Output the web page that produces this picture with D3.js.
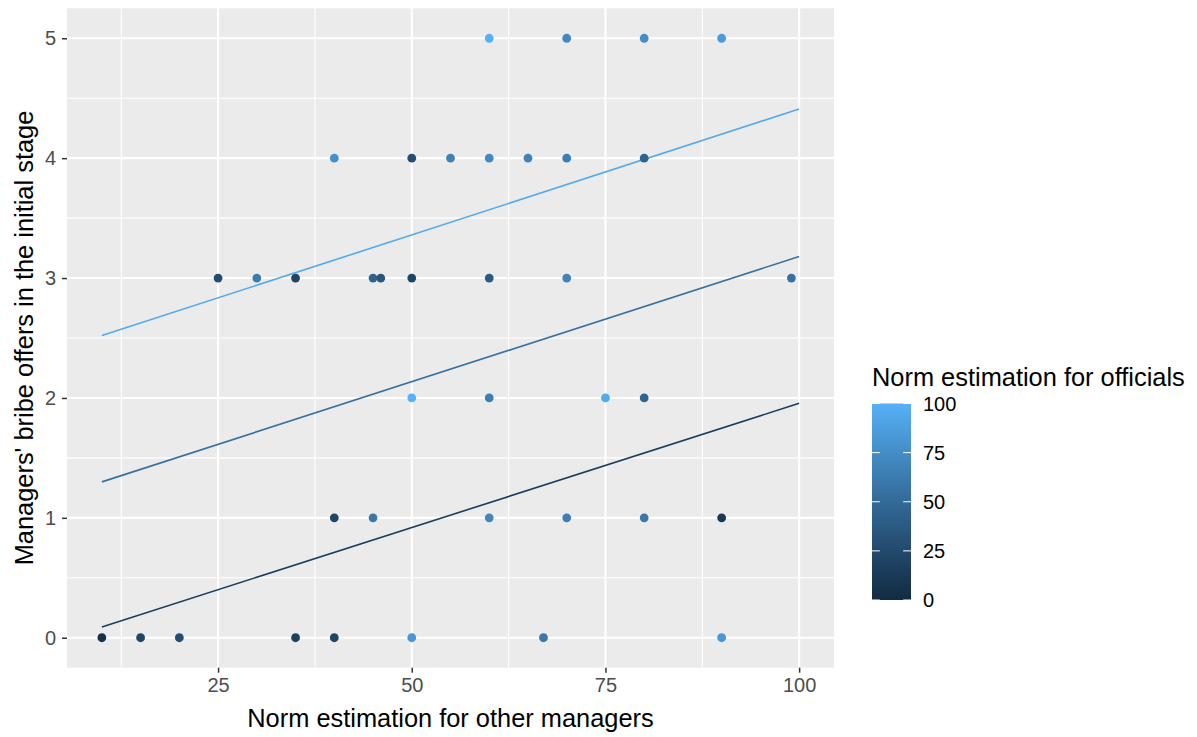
<!DOCTYPE html>
<html>
<head>
<meta charset="utf-8">
<script src="https://cdn.jsdelivr.net/npm/d3@7"></script>
<style>
  html, body { margin: 0; padding: 0; background: #ffffff; }
  svg { display: block; font-family: "Liberation Sans", Arial, sans-serif; }
</style>
</head>
<body>
<svg id="chart" width="1197" height="737"></svg>
<script>
// ---- data ----
const pointX = [60, 70, 80, 90,
                40, 50, 55, 60, 65, 70, 80,
                25, 30, 35, 45, 46, 50, 60, 70, 99,
                50, 60, 75, 80,
                40, 45, 60, 70, 80, 90,
                10, 15, 20, 35, 40, 50, 67, 90];
const pointY = [5, 5, 5, 5,
                4, 4, 4, 4, 4, 4, 4,
                3, 3, 3, 3, 3, 3, 3, 3, 3,
                2, 2, 2, 2,
                1, 1, 1, 1, 1, 1,
                0, 0, 0, 0, 0, 0, 0, 0];
const pointOfficials = [100, 72, 75, 85,
                        78, 28, 68, 72, 68, 65, 45,
                        28, 62, 22, 45, 35, 22, 38, 68, 55,
                        100, 65, 95, 45,
                        22, 60, 70, 65, 60, 12,
                        5, 22, 28, 18, 22, 82, 60, 82];

const lineX = [10, 100];
const lineLevels = [95, 55, 15];          // officials norm for each fitted line
const lineHigh = [2.52, 4.41];
const lineMid = [1.30, 3.18];
const lineLow = [0.09, 1.955];
const lineSeries = [lineHigh, lineMid, lineLow];

const xTicks = [25, 50, 75, 100];
const xMinor = [12.5, 37.5, 62.5, 87.5];
const yTicks = [0, 1, 2, 3, 4, 5];
const yMinor = [0.5, 1.5, 2.5, 3.5, 4.5];
const legendTicks = [0, 25, 50, 75, 100];

const xTitle = "Norm estimation for other managers";
const yTitle = "Managers' bribe offers in the initial stage";
const legendTitle = "Norm estimation for officials";

// ---- layout ----
const panel = { left: 67, right: 834, top: 8.3, bottom: 667.7 };
const svg = d3.select("#chart");

const x = d3.scaleLinear().domain([5.5, 104.5]).range([panel.left, panel.right]);
const y = d3.scaleLinear().domain([-0.25, 5.25]).range([panel.bottom, panel.top]);
const color = d3.scaleLinear().domain([0, 100]).range(["#132B43", "#56B1F7"]).interpolate(d3.interpolateLab);

// panel background
svg.append("rect")
  .attr("x", panel.left).attr("y", panel.top)
  .attr("width", panel.right - panel.left).attr("height", panel.bottom - panel.top)
  .attr("fill", "#EBEBEB");

const grid = svg.append("g");
grid.selectAll(".xminor").data(xMinor).join("line")
  .attr("x1", d => x(d)).attr("x2", d => x(d))
  .attr("y1", panel.top).attr("y2", panel.bottom)
  .attr("stroke", "#fff").attr("stroke-width", 1.1);
grid.selectAll(".yminor").data(yMinor).join("line")
  .attr("y1", d => y(d)).attr("y2", d => y(d))
  .attr("x1", panel.left).attr("x2", panel.right)
  .attr("stroke", "#fff").attr("stroke-width", 1.1);
grid.selectAll(".xmajor").data(xTicks).join("line")
  .attr("x1", d => x(d)).attr("x2", d => x(d))
  .attr("y1", panel.top).attr("y2", panel.bottom)
  .attr("stroke", "#fff").attr("stroke-width", 2.1);
grid.selectAll(".ymajor").data(yTicks).join("line")
  .attr("y1", d => y(d)).attr("y2", d => y(d))
  .attr("x1", panel.left).attr("x2", panel.right)
  .attr("stroke", "#fff").attr("stroke-width", 2.1);

// axes
const xAxis = svg.append("g")
  .attr("transform", `translate(0,${panel.bottom})`)
  .call(d3.axisBottom(x).tickValues(xTicks).tickSize(5).tickPadding(5).tickFormat(d3.format("d")));
const yAxis = svg.append("g")
  .attr("transform", `translate(${panel.left},0)`)
  .call(d3.axisLeft(y).tickValues(yTicks).tickSize(5).tickPadding(6).tickFormat(d3.format("d")));
[xAxis, yAxis].forEach(a => {
  a.select(".domain").remove();
  a.selectAll(".tick line").attr("stroke", "#333333").attr("stroke-width", 1.5);
  a.selectAll(".tick text").attr("fill", "#4D4D4D").attr("font-size", 20)
    .attr("font-family", "'Liberation Sans', Arial, sans-serif");
});

// fitted lines
const lineGen = d3.line().x((d, i) => x(lineX[i])).y(d => y(d));
svg.append("g").selectAll("path").data(lineSeries).join("path")
  .attr("d", d => lineGen(d))
  .attr("fill", "none")
  .attr("stroke", (d, i) => color(lineLevels[i]))
  .attr("stroke-width", 1.6);

// points
svg.append("g").selectAll("circle").data(pointX).join("circle")
  .attr("cx", d => x(d))
  .attr("cy", (d, i) => y(pointY[i]))
  .attr("r", 4.4)
  .attr("fill", (d, i) => color(pointOfficials[i]));

// axis titles
svg.append("text")
  .attr("x", (panel.left + panel.right) / 2).attr("y", 727)
  .attr("text-anchor", "middle").attr("font-size", 25.4).attr("fill", "#000")
  .text(xTitle);
svg.append("text")
  .attr("transform", `translate(33,${(panel.top + panel.bottom) / 2}) rotate(-90)`)
  .attr("text-anchor", "middle").attr("font-size", 25.4).attr("fill", "#000")
  .text(yTitle);

// legend
const leg = { x: 872, top: 403.5, bottom: 600, width: 39 };
svg.append("text")
  .attr("x", 872).attr("y", 386)
  .attr("font-size", 25.4).attr("fill", "#000")
  .text(legendTitle);

const defs = svg.append("defs");
const grad = defs.append("linearGradient").attr("id", "cbar")
  .attr("x1", 0).attr("y1", 1).attr("x2", 0).attr("y2", 0);
d3.range(0, 101, 5).forEach(v => {
  grad.append("stop").attr("offset", `${v}%`).attr("stop-color", color(v));
});
const ly = d3.scaleLinear().domain([0, 100]).range([leg.bottom, leg.top]);
svg.append("rect")
  .attr("x", leg.x).attr("y", leg.top)
  .attr("width", leg.width).attr("height", leg.bottom - leg.top)
  .attr("fill", "url(#cbar)");
const legTicks = svg.append("g");
legendTicks.forEach(v => {
  legTicks.append("line")
    .attr("x1", leg.x).attr("x2", leg.x + leg.width / 5)
    .attr("y1", ly(v)).attr("y2", ly(v))
    .attr("stroke", "#fff").attr("stroke-width", 1);
  legTicks.append("line")
    .attr("x1", leg.x + leg.width * 4 / 5).attr("x2", leg.x + leg.width)
    .attr("y1", ly(v)).attr("y2", ly(v))
    .attr("stroke", "#fff").attr("stroke-width", 1);
  legTicks.append("text")
    .attr("x", 923).attr("y", ly(v)).attr("dy", "0.36em")
    .attr("font-size", 20).attr("fill", "#000")
    .text(d3.format("d")(v));
});
</script>
</body>
</html>
